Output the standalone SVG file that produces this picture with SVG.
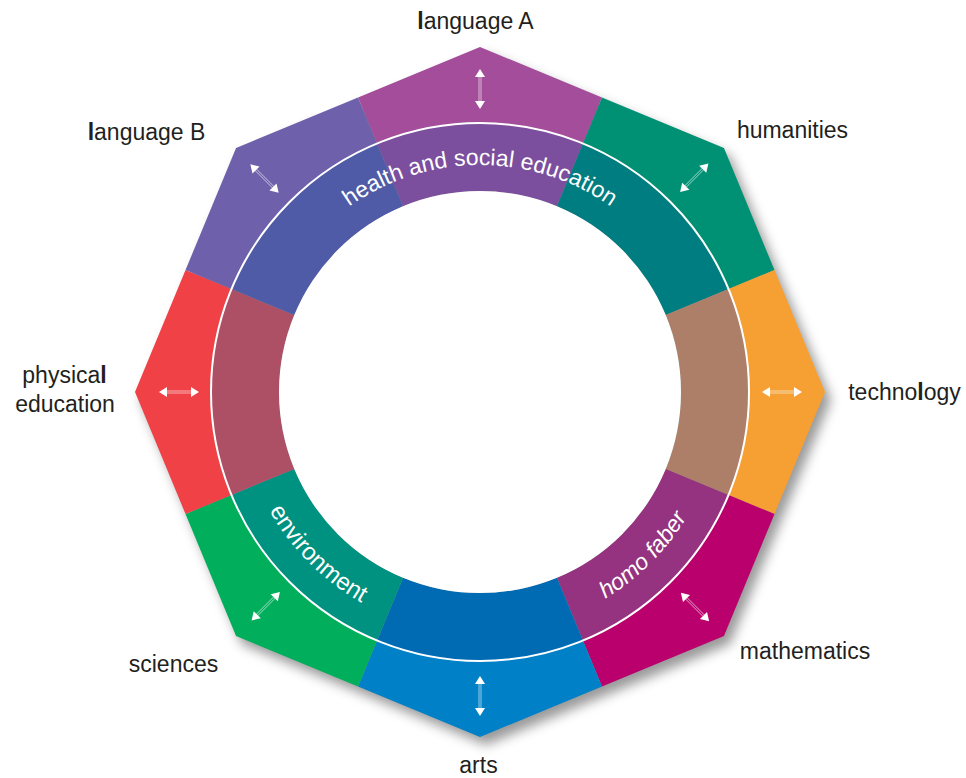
<svg xmlns="http://www.w3.org/2000/svg" xmlns:xlink="http://www.w3.org/1999/xlink" width="966" height="778" viewBox="0 0 966 778">
  <style>
    .lbl { font-family: "Liberation Sans", "DejaVu Sans", sans-serif; font-size: 23px; fill: #231F20; text-anchor: middle; }
    .ring-txt { font-family: "Liberation Sans", "DejaVu Sans", sans-serif; font-size: 23px; fill: #FFFFFF; }
    .ring-it { font-style: italic; }
    .b { font-weight: bold; }
    .sep { fill: none; stroke: #FFFFFF; stroke-width: 2; }
  </style>
  <defs>
    <filter id="shadow" x="-10%" y="-10%" width="120%" height="120%">
      <feGaussianBlur stdDeviation="6"/>
    </filter>
    <g id="arrow">
      <line x1="-13" y1="-1" x2="13" y2="-1" stroke="#FFFFFF" stroke-width="0.8" stroke-opacity="0.75"/>
      <line x1="-13" y1="1" x2="13" y2="1" stroke="#FFFFFF" stroke-width="0.8" stroke-opacity="0.75"/>
      <polygon points="-20,0 -12,-5 -12,5" fill="#FFFFFF"/>
      <polygon points="20,0 12,-5 12,5" fill="#FFFFFF"/>
    </g>
    <path id="arcTop" d="M 283.41 278.5 A 227 227 0 0 1 676.59 278.5"/>
    <path id="arcEnv" d="M 238.92 413.09 A 243 243 0 0 0 458.91 633.08"/>
    <path id="arcHomo" d="M 501.09 633.08 A 243 243 0 0 0 721.08 413.09"/>
  </defs>

  <!-- drop shadow -->
  <polygon points="480,47 723.95,148.05 825,392 723.95,635.95 480,737 236.05,635.95 135,392 236.05,148.05" transform="translate(6,8)" fill="#000000" fill-opacity="0.4" filter="url(#shadow)"/>

  <!-- outer segments -->
  <g id="seg-languageA">
    <path d="M 358.02 97.52 L 480 47 L 601.98 97.52 L 582.94 143.48 A 269 269 0 0 0 377.06 143.48 Z" fill="#A34D9B"/>
    <use href="#arrow" transform="translate(480,89) rotate(90)"/>
    <text class="lbl" x="475.5" y="29"><tspan class="b">l</tspan>anguage A</text>
  </g>
  <g id="seg-humanities">
    <path d="M 601.98 97.52 L 723.95 148.05 L 774.48 270.02 L 728.52 289.06 A 269 269 0 0 0 582.94 143.48 Z" fill="#009174"/>
    <use href="#arrow" transform="translate(694.25,177.75) rotate(-45)"/>
    <text class="lbl" x="792.5" y="138">humanities</text>
  </g>
  <g id="seg-technology">
    <path d="M 774.48 270.02 L 825 392 L 774.48 513.98 L 728.52 494.94 A 269 269 0 0 0 728.52 289.06 Z" fill="#F6A034"/>
    <use href="#arrow" transform="translate(782,392)"/>
    <text class="lbl" x="904.5" y="400">techno<tspan class="b">l</tspan>ogy</text>
  </g>
  <g id="seg-mathematics">
    <path d="M 774.48 513.98 L 723.95 635.95 L 601.98 686.48 L 582.94 640.52 A 269 269 0 0 0 728.52 494.94 Z" fill="#BA006D"/>
    <use href="#arrow" transform="translate(695,607) rotate(45)"/>
    <text class="lbl" x="805" y="659">mathematics</text>
  </g>
  <g id="seg-arts">
    <path d="M 601.98 686.48 L 480 737 L 358.02 686.48 L 377.06 640.52 A 269 269 0 0 0 582.94 640.52 Z" fill="#0080C6"/>
    <use href="#arrow" transform="translate(480,696) rotate(90)"/>
    <text class="lbl" x="478.5" y="773">arts</text>
  </g>
  <g id="seg-sciences">
    <path d="M 358.02 686.48 L 236.05 635.95 L 185.52 513.98 L 231.48 494.94 A 269 269 0 0 0 377.06 640.52 Z" fill="#00AE5B"/>
    <use href="#arrow" transform="translate(265.75,606.25) rotate(-45)"/>
    <text class="lbl" x="173.5" y="672">sciences</text>
  </g>
  <g id="seg-physical">
    <path d="M 185.52 513.98 L 135 392 L 185.52 270.02 L 231.48 289.06 A 269 269 0 0 0 231.48 494.94 Z" fill="#EF4146"/>
    <use href="#arrow" transform="translate(179,392)"/>
    <text class="lbl" x="64.5" y="383">physica<tspan class="b">l</tspan></text>
    <text class="lbl" x="65" y="412">education</text>
  </g>
  <g id="seg-languageB">
    <path d="M 185.52 270.02 L 236.05 148.05 L 358.02 97.52 L 377.06 143.48 A 269 269 0 0 0 231.48 289.06 Z" fill="#6E60AA"/>
    <use href="#arrow" transform="translate(264.5,178.5) rotate(45)"/>
    <text class="lbl" x="146.5" y="140"><tspan class="b">l</tspan>anguage B</text>
  </g>

  <!-- inner ring -->
  <g id="ring-top">
    <path d="M 377.06 143.48 A 269 269 0 0 1 582.94 143.48 L 556.92 206.30 A 201 201 0 0 0 403.08 206.30 Z" fill="#7C4F9E"/>
  </g>
  <g id="ring-topright">
    <path d="M 582.94 143.48 A 269 269 0 0 1 728.52 289.06 L 665.70 315.08 A 201 201 0 0 0 556.92 206.30 Z" fill="#007D80"/>
  </g>
  <g id="ring-right">
    <path d="M 728.52 289.06 A 269 269 0 0 1 728.52 494.94 L 665.70 468.92 A 201 201 0 0 0 665.70 315.08 Z" fill="#AD7F68"/>
  </g>
  <g id="ring-bottomright">
    <path d="M 728.52 494.94 A 269 269 0 0 1 582.94 640.52 L 556.92 577.70 A 201 201 0 0 0 665.70 468.92 Z" fill="#953380"/>
  </g>
  <g id="ring-bottom">
    <path d="M 582.94 640.52 A 269 269 0 0 1 377.06 640.52 L 403.08 577.70 A 201 201 0 0 0 556.92 577.70 Z" fill="#006AB3"/>
  </g>
  <g id="ring-bottomleft">
    <path d="M 377.06 640.52 A 269 269 0 0 1 231.48 494.94 L 294.30 468.92 A 201 201 0 0 0 403.08 577.70 Z" fill="#009280"/>
  </g>
  <g id="ring-left">
    <path d="M 231.48 494.94 A 269 269 0 0 1 231.48 289.06 L 294.30 315.08 A 201 201 0 0 0 294.30 468.92 Z" fill="#AD5066"/>
  </g>
  <g id="ring-topleft">
    <path d="M 231.48 289.06 A 269 269 0 0 1 377.06 143.48 L 403.08 206.30 A 201 201 0 0 0 294.30 315.08 Z" fill="#4F5BA6"/>
  </g>

  <circle cx="480" cy="392" r="201" fill="#FFFFFF"/>
  <circle class="sep" cx="480" cy="392" r="269"/>

  <g id="ring-labels">
    <text class="ring-txt"><textPath href="#arcTop" startOffset="50%" text-anchor="middle">health and social education</textPath></text>
    <text class="ring-txt" style="font-size:24px"><textPath href="#arcEnv" startOffset="50%" text-anchor="middle">environment</textPath></text>
    <text class="ring-txt ring-it"><textPath href="#arcHomo" startOffset="50%" text-anchor="middle">homo faber</textPath></text>
  </g>
</svg>
